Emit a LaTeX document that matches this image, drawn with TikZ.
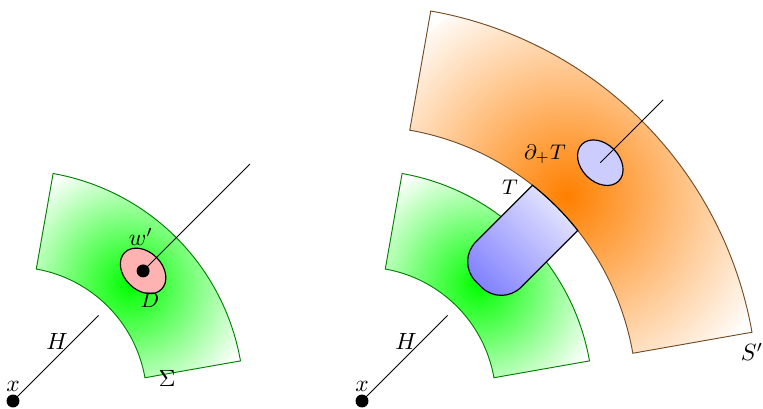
\documentclass[tikz,border=0pt]{standalone}
\usetikzlibrary{calc}
\newcommand\annsec[2]{(10:#1) arc[start angle=10, end angle=80, radius=#1] -- (80:#2) arc[start angle=80, end angle=10, radius=#2] -- cycle}
\begin{document}
\begin{tikzpicture}[x=0.4255pt,y=0.4255pt,
  dot/.style={circle,fill=black,inner sep=0pt,minimum size=5.5pt},
  lbl/.style={inner sep=1pt},
  greenborder/.style={draw=green!50!black},
  orangeborder/.style={draw=brown!60!black},
  ell/.style={draw=black, line width=0.5pt}]
\useasboundingbox (0,0) rectangle (763,-408);

% ---------- left figure ----------
\begin{scope}[shift={(13,-401)}]
  \begin{scope}
    \clip \annsec{134}{231};
    \shade[inner color=green, outer color=white] (45:165) circle (130);
  \end{scope}
  \draw[greenborder] \annsec{134}{231};
  \coordinate (dc1) at (45:184);
  \draw[ell, fill=red!30, rotate around={-45:(dc1)}] (dc1) ellipse [x radius=26, y radius=19];
  \node[dot] (x1) at (0,0) {};
  \coordinate (h1) at (45:121);
  \draw (x1.center) -- (h1);
  \node[dot] (d1) at (dc1) {};
  \coordinate (e1) at (45:335);
  \draw (d1.center) -- (e1);
  \node[lbl] (lx1) at (0,15) {$x$};
  \node[lbl] (lh1) at (44,60) {$H$};
  \node[lbl] (lw1) at (128,164) {$w'$};
  \node[lbl] (ld1) at (137,101) {\small $D$};
  \node[lbl] (ls1) at (154,23) {$\Sigma$};
\end{scope}

% ---------- right figure ----------
\begin{scope}[shift={(362,-401)}]
  \begin{scope}
    \clip \annsec{134}{231};
    \shade[inner color=green, outer color=white] (45:165) circle (130);
  \end{scope}
  \draw[greenborder] \annsec{134}{231};
  \begin{scope}
    \clip \annsec{275}{396};
    \shade[inner color=orange, outer color=orange!4] (45:290) circle (215);
  \end{scope}
  \draw[orangeborder] \annsec{275}{396};
  % tube T
  \shade[top color=blue!10, bottom color=blue!48, shading angle=-45, draw=black, line width=0.5pt]
     ($(45:273.1)+(135:32)$) -- ($(45:193)+(135:32)$)
     arc[start angle=135, end angle=225, radius=28]
     -- ($(45:165)+(-45:4)$)
     arc[start angle=225, end angle=315, radius=28]
     -- ($(45:273.1)+(-45:32)$)
     arc[start angle=38.32, end angle=51.68, radius=275] -- cycle;
  \coordinate (dc2) at (45:337);
  \draw[ell, fill=blue!20, rotate around={-45:(dc2)}] (dc2) ellipse [x radius=26, y radius=19];
  \coordinate (e2) at (45:426);
  \draw (dc2) -- (e2);
  \node[dot] (x2) at (0,0) {};
  \coordinate (h2) at (45:121);
  \draw (x2.center) -- (h2);
  \node[lbl] (lx2) at (0,15) {$x$};
  \node[lbl] (lh2) at (44,60) {$H$};
  \node[lbl] (lt2) at (148,214) {\small $T$};
  \node[lbl] (lp2) at (183,247) {\small $\partial_+T$};
  \node[lbl] (ls2) at (390,49) {$S'$};
\end{scope}
\end{tikzpicture}
\end{document}
